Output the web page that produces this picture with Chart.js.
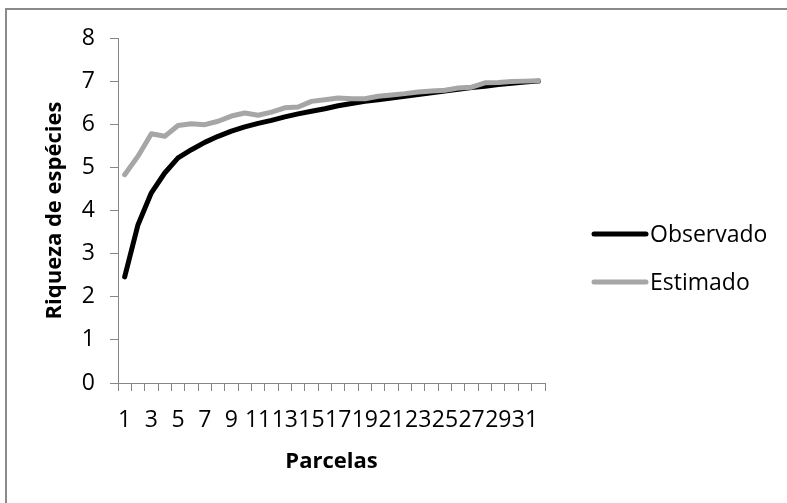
<!DOCTYPE html>
<html>
<head>
<meta charset="utf-8">
<script src="https://cdn.jsdelivr.net/npm/chart.js@4/dist/chart.umd.min.js"></script>
<style>
    html, body { margin: 0; padding: 0; background: #fff; overflow: hidden; }
    #wrap { position: relative; width: 787px; height: 503px; }
    #frame {
        position: absolute; left: 5px; top: 8px; width: 820px; height: 540px;
        border: 2px solid #8a8a8a; box-sizing: border-box;
    }
    #chart { position: absolute; left: 0; top: 0; }
</style>
</head>
<body>
<div id="wrap">
    <div id="frame"></div>
    <canvas id="chart" width="787" height="503"></canvas>
</div>
<script>
// Parcelas 1..32
const parcelas = Array.from({ length: 32 }, (_, i) => String(i + 1));

// values
const observado = [2.46, 3.67, 4.41, 4.87, 5.22, 5.41, 5.58, 5.72, 5.84, 5.94,
    6.02, 6.09, 6.17, 6.24, 6.30, 6.36, 6.43, 6.48, 6.53, 6.57,
    6.61, 6.65, 6.69, 6.73, 6.77, 6.81, 6.85, 6.88, 6.92, 6.95, 6.98, 7.00];
const estimado = [4.83, 5.26, 5.78, 5.72, 5.97, 6.01, 5.99, 6.07, 6.19, 6.26,
    6.21, 6.28, 6.38, 6.40, 6.53, 6.57, 6.61, 6.59, 6.59, 6.65,
    6.68, 6.71, 6.75, 6.77, 6.79, 6.84, 6.86, 6.96, 6.97, 6.99, 7.00, 7.01];

const yTicks = [0, 1, 2, 3, 4, 5, 6, 7, 8];

const FONT = '"Open Sans", Lato, sans-serif';
const AXIS_COLOR = '#868686';

// Excel style legend on the right
const sideLegend = {
    id: 'sideLegend',
    afterDraw(chart) {
        const ctx = chart.ctx;
        const rows = [234, 282];
        ctx.save();
        chart.data.datasets.forEach((ds, i) => {
            const y = rows[i];
            ctx.strokeStyle = ds.borderColor;
            ctx.lineWidth = 5;
            ctx.lineCap = 'round';
            ctx.beginPath();
            ctx.moveTo(594, y);
            ctx.lineTo(646, y);
            ctx.stroke();
            ctx.fillStyle = '#000';
            ctx.font = '23px ' + FONT;
            ctx.textBaseline = 'middle';
            ctx.textAlign = 'left';
            ctx.fillText(ds.label, 650, y + 1);
        });
        ctx.restore();
    }
};

const ctx = document.getElementById('chart').getContext('2d');
new Chart(ctx, {
    type: 'line',
    data: {
        labels: parcelas,
        datasets: [{
            label: 'Observado',
            data: observado,
            order: 1,
            borderColor: '#000000',
            borderWidth: 5,
            pointRadius: 0,
            borderCapStyle: 'round',
            borderJoinStyle: 'round',
            tension: 0
        }, {
            label: 'Estimado',
            data: estimado,
            order: 0,
            borderColor: '#a6a6a6',
            borderWidth: 5,
            pointRadius: 0,
            borderCapStyle: 'round',
            borderJoinStyle: 'round',
            tension: 0
        }]
    },
    options: {
        responsive: false,
        animation: false,
        devicePixelRatio: 1,
        layout: { padding: { left: 0, top: 38, right: 242, bottom: 0 } },
        plugins: {
            legend: { display: false },
            tooltip: { enabled: false }
        },
        scales: {
            x: {
                offset: true,
                grid: {
                    offset: true,
                    drawOnChartArea: false,
                    color: AXIS_COLOR,
                    tickLength: 8
                },
                border: { color: AXIS_COLOR, width: 1 },
                ticks: {
                    autoSkip: false,
                    maxRotation: 0,
                    padding: 16,
                    color: '#000',
                    font: { family: FONT, size: 23 },
                    callback: function (value, index) {
                        return index % 2 === 0 ? this.getLabelForValue(value) : '';
                    }
                },
                title: {
                    display: true,
                    text: 'Parcelas',
                    color: '#000',
                    font: { family: FONT, size: 22, weight: 'bold' },
                    padding: { top: 0, bottom: 28 }
                },
                afterFit(scale) { scale.height = 120; }
            },
            y: {
                min: 0,
                max: 8,
                afterBuildTicks(scale) {
                    scale.ticks = yTicks.map(v => ({ value: v }));
                },
                grid: {
                    drawOnChartArea: false,
                    color: AXIS_COLOR,
                    tickLength: 8
                },
                border: { color: AXIS_COLOR, width: 1 },
                ticks: {
                    padding: 15,
                    color: '#000',
                    font: { family: FONT, size: 23 }
                },
                title: {
                    display: true,
                    text: 'Riqueza de espécies',
                    color: '#000',
                    font: { family: FONT, size: 22, weight: 'bold' },
                    padding: { top: 42, bottom: 0 }
                },
                afterFit(scale) { scale.width = 118; }
            }
        }
    },
    plugins: [sideLegend]
});
</script>
</body>
</html>
